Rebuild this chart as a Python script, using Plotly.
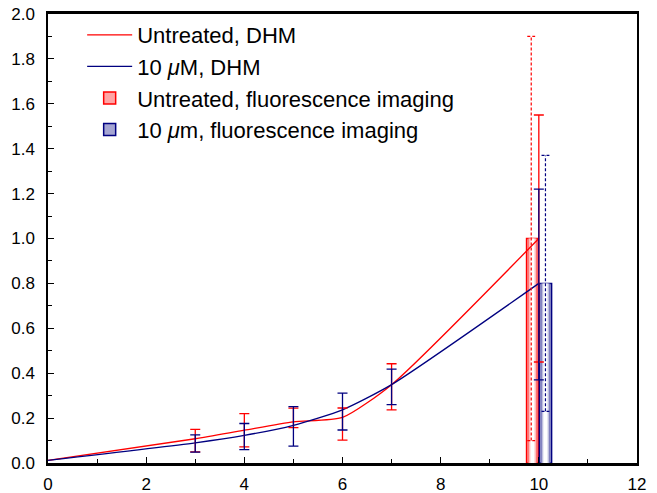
import plotly.graph_objects as go

# ---------------- data ----------------
dhm_x = [0, 3, 4, 5, 6, 7, 10]
untreated_dhm = [0.012, 0.108, 0.146, 0.183, 0.203, 0.349, 1.0]
untreated_err_plus = [0, 0.042, 0.074, 0.061, 0.042, 0.093, 0.55]
untreated_err_minus = [0, 0.058, 0.074, 0.025, 0.101, 0.112, 0.55]

treated_dhm = [0.012, 0.09, 0.123, 0.168, 0.237, 0.349, 0.80]
treated_err_plus = [0, 0.035, 0.053, 0.083, 0.074, 0.069, 0.42]
treated_err_minus = [0, 0.042, 0.063, 0.093, 0.09, 0.089, 0.43]

fluo_x = [10]
untreated_fluo = [1.0]
untreated_fluo_err = [0.90]
treated_fluo = [0.80]
treated_fluo_err = [0.57]

RED = "#ff0000"
BLUE = "#000080"

fig = go.Figure()

fig.add_trace(go.Scatter(
    x=dhm_x, y=untreated_dhm, mode="lines", name="Untreated, DHM",
    line=dict(color=RED, width=1.3, shape="spline", smoothing=0.6),
))
fig.add_trace(go.Scatter(
    x=dhm_x, y=treated_dhm, mode="lines", name="10 <i>μ</i>M, DHM",
    line=dict(color=BLUE, width=1.3, shape="spline", smoothing=0.6),
))

bar_layers = [
    (1.00, 1.0),
    (0.80, 0.55),
    (0.60, 0.25),
    (0.35, 0.0),
]

def mix(c, t):
    c = c.lstrip("#")
    r, g, b = int(c[0:2], 16), int(c[2:4], 16), int(c[4:6], 16)
    r = int(255 + (r - 255) * t)
    g = int(255 + (g - 255) * t)
    b = int(255 + (b - 255) * t)
    return f"rgb({r},{g},{b})"

bar_specs = [
    ("Untreated, fluorescence imaging", untreated_fluo, RED, 9.87, 0.24),
    ("10 <i>μ</i>m, fluorescence imaging", treated_fluo, BLUE, 10.135, 0.25),
]
for name, vals, col, center, width in bar_specs:
    for i, (wfrac, strength) in enumerate(bar_layers):
        w = width * wfrac
        fig.add_trace(go.Bar(
            x=fluo_x, y=vals, width=w, offset=center - fluo_x[0] - w / 2,
            name=name, showlegend=(i == 0),
            marker=dict(color=mix(col, strength if i > 0 else 0.35),
                        line=dict(color=col, width=1.5 if i == 0 else 0)),
        ))

for vals, ep, em, col in [
    (untreated_dhm, untreated_err_plus, untreated_err_minus, RED),
    (treated_dhm, treated_err_plus, treated_err_minus, BLUE),
]:
    xs = [x for x, p in zip(dhm_x, ep) if p > 0]
    ys = [v for v, p in zip(vals, ep) if p > 0]
    pp = [p for p in ep if p > 0]
    mm = [m for m, p in zip(em, ep) if p > 0]
    fig.add_trace(go.Scatter(
        x=xs, y=ys, mode="markers", showlegend=False,
        marker=dict(size=1, color="rgba(0,0,0,0)"),
        error_y=dict(type="data", symmetric=False, array=pp, arrayminus=mm,
                     color=col, thickness=1.3, width=5),
    ))

cap = 0.08
for vals, errs, col, xc in [
    (untreated_fluo, untreated_fluo_err, RED, 9.845),
    (treated_fluo, treated_fluo_err, BLUE, 10.135),
]:
    lo = vals[0] - errs[0]
    hi = vals[0] + errs[0]
    fig.add_trace(go.Scatter(
        x=[xc, xc, None, xc - cap, xc + cap, None, xc - cap, xc + cap],
        y=[lo, hi, None, lo, lo, None, hi, hi],
        mode="lines", showlegend=False, hoverinfo="skip",
        line=dict(color=col, width=1.2, dash="3px,2px"),
    ))

fig.update_layout(
    width=657, height=493, autosize=False,
    margin=dict(l=48, r=20, t=14, b=30, pad=0),
    plot_bgcolor="white", paper_bgcolor="white",
    barmode="overlay",
    font=dict(family="Liberation Sans, Arial, sans-serif", size=17, color="black"),
    showlegend=True,
    legend=dict(
        x=0.058, y=1.0, xanchor="left", yanchor="top",
        bgcolor="rgba(0,0,0,0)", font=dict(size=22),
        tracegroupgap=0, itemwidth=45,
    ),
)
fig.update_xaxes(
    range=[0, 12], tickvals=[0, 2, 4, 6, 8, 10, 12], automargin=False,
    ticks="inside", ticklen=6, tickwidth=1.3, tickcolor="black",
    minor=dict(ticks="inside", ticklen=4, tickwidth=1.2, dtick=1, tickcolor="black"),
    showline=True, linecolor="black", linewidth=2.5, mirror=True,
    showgrid=False, zeroline=False, ticklabelstandoff=4,
)
fig.update_yaxes(
    range=[0, 2], tickvals=[0, 0.2, 0.4, 0.6, 0.8, 1.0, 1.2, 1.4, 1.6, 1.8, 2.0],
    tickformat=".1f", automargin=False,
    ticks="inside", ticklen=6, tickwidth=1.3, tickcolor="black",
    minor=dict(ticks="inside", ticklen=4, tickwidth=1.2, dtick=0.1, tickcolor="black"),
    showline=True, linecolor="black", linewidth=1.5, mirror=True,
    showgrid=False, zeroline=False, ticklabelstandoff=8,
)

fig.write_html(
    "out.html",
    config={"displayModeBar": False},
    post_script="document.body.style.margin='0';document.body.style.overflow='hidden';",
)
